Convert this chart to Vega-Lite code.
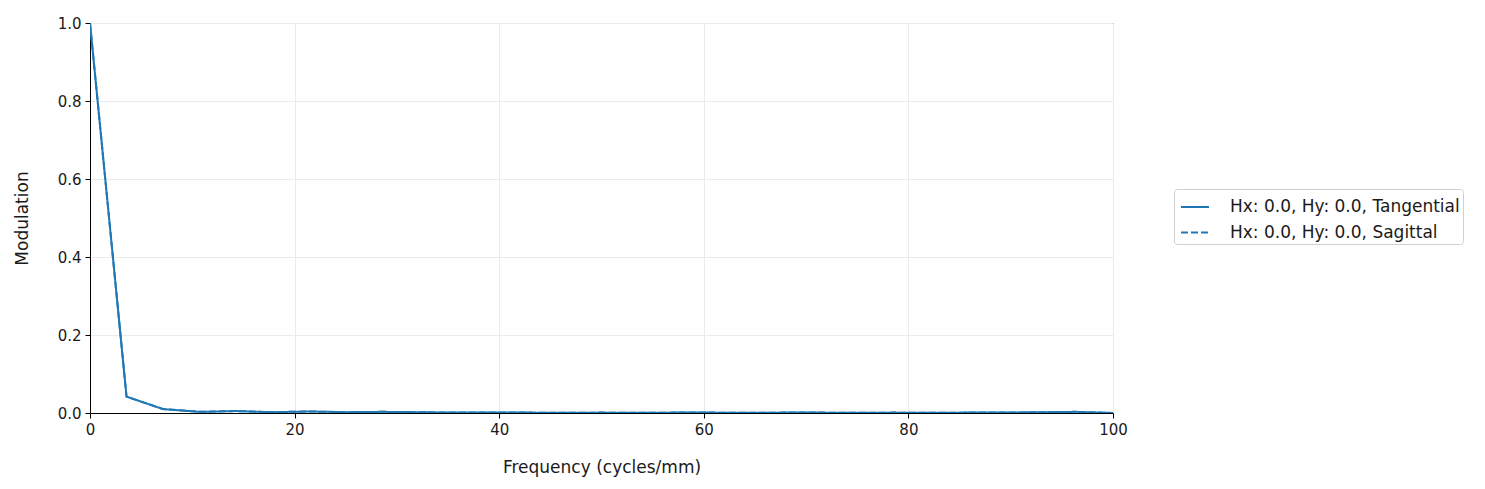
{
  "$schema": "https://vega.github.io/schema/vega-lite/v6.json",
  "width": 1023,
  "height": 390,
  "autosize": {"type": "none"},
  "padding": {"left": 90, "top": 23, "right": 372, "bottom": 76},
  "background": "white",
  "config": {
    "font": "DejaVu Sans",
    "view": {"stroke": "black", "strokeWidth": 1},
    "axis": {
      "labelFont": "DejaVu Sans",
      "labelFontSize": 15,
      "labelColor": "#1a1a1a",
      "labelFlush": false,
      "titleFont": "DejaVu Sans",
      "titleFontSize": 17,
      "titleFontWeight": "normal",
      "titleColor": "#1a1a1a",
      "domainColor": "black",
      "tickColor": "black",
      "tickSize": 5,
      "gridColor": "#ebebeb",
      "gridWidth": 1,
      "labelPadding": 4
    }
  },
  "data": {
    "values": [
      {"freq": 0, "mtf": 1.0, "series": "Hx: 0.0, Hy: 0.0, Tangential"},
      {"freq": 3.571, "mtf": 0.042, "series": "Hx: 0.0, Hy: 0.0, Tangential"},
      {"freq": 7.143, "mtf": 0.010, "series": "Hx: 0.0, Hy: 0.0, Tangential"},
      {"freq": 10.714, "mtf": 0.003, "series": "Hx: 0.0, Hy: 0.0, Tangential"},
      {"freq": 14.286, "mtf": 0.005, "series": "Hx: 0.0, Hy: 0.0, Tangential"},
      {"freq": 17.857, "mtf": 0.002, "series": "Hx: 0.0, Hy: 0.0, Tangential"},
      {"freq": 21.429, "mtf": 0.004, "series": "Hx: 0.0, Hy: 0.0, Tangential"},
      {"freq": 25, "mtf": 0.002, "series": "Hx: 0.0, Hy: 0.0, Tangential"},
      {"freq": 28.571, "mtf": 0.003, "series": "Hx: 0.0, Hy: 0.0, Tangential"},
      {"freq": 32.143, "mtf": 0.002, "series": "Hx: 0.0, Hy: 0.0, Tangential"},
      {"freq": 35.714, "mtf": 0.001, "series": "Hx: 0.0, Hy: 0.0, Tangential"},
      {"freq": 39.286, "mtf": 0.001, "series": "Hx: 0.0, Hy: 0.0, Tangential"},
      {"freq": 42.857, "mtf": 0.001, "series": "Hx: 0.0, Hy: 0.0, Tangential"},
      {"freq": 46.429, "mtf": 0.0005, "series": "Hx: 0.0, Hy: 0.0, Tangential"},
      {"freq": 50, "mtf": 0.001, "series": "Hx: 0.0, Hy: 0.0, Tangential"},
      {"freq": 53.571, "mtf": 0.0005, "series": "Hx: 0.0, Hy: 0.0, Tangential"},
      {"freq": 57.143, "mtf": 0.001, "series": "Hx: 0.0, Hy: 0.0, Tangential"},
      {"freq": 60.714, "mtf": 0.001, "series": "Hx: 0.0, Hy: 0.0, Tangential"},
      {"freq": 64.286, "mtf": 0.0005, "series": "Hx: 0.0, Hy: 0.0, Tangential"},
      {"freq": 67.857, "mtf": 0.001, "series": "Hx: 0.0, Hy: 0.0, Tangential"},
      {"freq": 71.429, "mtf": 0.001, "series": "Hx: 0.0, Hy: 0.0, Tangential"},
      {"freq": 75, "mtf": 0.0005, "series": "Hx: 0.0, Hy: 0.0, Tangential"},
      {"freq": 78.571, "mtf": 0.001, "series": "Hx: 0.0, Hy: 0.0, Tangential"},
      {"freq": 82.143, "mtf": 0.0005, "series": "Hx: 0.0, Hy: 0.0, Tangential"},
      {"freq": 85.714, "mtf": 0.001, "series": "Hx: 0.0, Hy: 0.0, Tangential"},
      {"freq": 89.286, "mtf": 0.001, "series": "Hx: 0.0, Hy: 0.0, Tangential"},
      {"freq": 92.857, "mtf": 0.002, "series": "Hx: 0.0, Hy: 0.0, Tangential"},
      {"freq": 96.429, "mtf": 0.003, "series": "Hx: 0.0, Hy: 0.0, Tangential"},
      {"freq": 100, "mtf": 0.0, "series": "Hx: 0.0, Hy: 0.0, Tangential"},
      {"freq": 0, "mtf": 1.0, "series": "Hx: 0.0, Hy: 0.0, Sagittal"},
      {"freq": 3.571, "mtf": 0.042, "series": "Hx: 0.0, Hy: 0.0, Sagittal"},
      {"freq": 7.143, "mtf": 0.010, "series": "Hx: 0.0, Hy: 0.0, Sagittal"},
      {"freq": 10.714, "mtf": 0.003, "series": "Hx: 0.0, Hy: 0.0, Sagittal"},
      {"freq": 14.286, "mtf": 0.005, "series": "Hx: 0.0, Hy: 0.0, Sagittal"},
      {"freq": 17.857, "mtf": 0.002, "series": "Hx: 0.0, Hy: 0.0, Sagittal"},
      {"freq": 21.429, "mtf": 0.004, "series": "Hx: 0.0, Hy: 0.0, Sagittal"},
      {"freq": 25, "mtf": 0.002, "series": "Hx: 0.0, Hy: 0.0, Sagittal"},
      {"freq": 28.571, "mtf": 0.003, "series": "Hx: 0.0, Hy: 0.0, Sagittal"},
      {"freq": 32.143, "mtf": 0.002, "series": "Hx: 0.0, Hy: 0.0, Sagittal"},
      {"freq": 35.714, "mtf": 0.001, "series": "Hx: 0.0, Hy: 0.0, Sagittal"},
      {"freq": 39.286, "mtf": 0.001, "series": "Hx: 0.0, Hy: 0.0, Sagittal"},
      {"freq": 42.857, "mtf": 0.001, "series": "Hx: 0.0, Hy: 0.0, Sagittal"},
      {"freq": 46.429, "mtf": 0.0005, "series": "Hx: 0.0, Hy: 0.0, Sagittal"},
      {"freq": 50, "mtf": 0.001, "series": "Hx: 0.0, Hy: 0.0, Sagittal"},
      {"freq": 53.571, "mtf": 0.0005, "series": "Hx: 0.0, Hy: 0.0, Sagittal"},
      {"freq": 57.143, "mtf": 0.001, "series": "Hx: 0.0, Hy: 0.0, Sagittal"},
      {"freq": 60.714, "mtf": 0.001, "series": "Hx: 0.0, Hy: 0.0, Sagittal"},
      {"freq": 64.286, "mtf": 0.0005, "series": "Hx: 0.0, Hy: 0.0, Sagittal"},
      {"freq": 67.857, "mtf": 0.001, "series": "Hx: 0.0, Hy: 0.0, Sagittal"},
      {"freq": 71.429, "mtf": 0.001, "series": "Hx: 0.0, Hy: 0.0, Sagittal"},
      {"freq": 75, "mtf": 0.0005, "series": "Hx: 0.0, Hy: 0.0, Sagittal"},
      {"freq": 78.571, "mtf": 0.001, "series": "Hx: 0.0, Hy: 0.0, Sagittal"},
      {"freq": 82.143, "mtf": 0.0005, "series": "Hx: 0.0, Hy: 0.0, Sagittal"},
      {"freq": 85.714, "mtf": 0.001, "series": "Hx: 0.0, Hy: 0.0, Sagittal"},
      {"freq": 89.286, "mtf": 0.001, "series": "Hx: 0.0, Hy: 0.0, Sagittal"},
      {"freq": 92.857, "mtf": 0.002, "series": "Hx: 0.0, Hy: 0.0, Sagittal"},
      {"freq": 96.429, "mtf": 0.003, "series": "Hx: 0.0, Hy: 0.0, Sagittal"},
      {"freq": 100, "mtf": 0.0, "series": "Hx: 0.0, Hy: 0.0, Sagittal"}
    ]
  },
  "mark": {"type": "line", "color": "#1f77b4", "strokeWidth": 2, "clip": true},
  "encoding": {
    "x": {
      "field": "freq",
      "type": "quantitative",
      "title": "Frequency (cycles/mm)",
      "scale": {"domain": [0, 100], "nice": false, "zero": false},
      "axis": {"values": [0, 20, 40, 60, 80, 100], "format": "d", "titlePadding": 22}
    },
    "y": {
      "field": "mtf",
      "type": "quantitative",
      "title": "Modulation",
      "scale": {"domain": [0, 1], "nice": false},
      "axis": {"values": [0, 0.2, 0.4, 0.6, 0.8, 1.0], "format": ".1f", "titlePadding": 26}
    },
    "strokeDash": {
      "field": "series",
      "type": "nominal",
      "scale": {
        "domain": ["Hx: 0.0, Hy: 0.0, Tangential", "Hx: 0.0, Hy: 0.0, Sagittal"],
        "range": [[1, 0], [7, 3]]
      },
      "legend": {
        "title": null,
        "orient": "none",
        "legendX": 1084,
        "legendY": 166,
        "symbolType": "stroke",
        "symbolSize": 784,
        "symbolStrokeWidth": 2,
        "symbolStrokeColor": "#1f77b4",
        "symbolOffset": 3,
        "labelFont": "DejaVu Sans",
        "labelFontSize": 17,
        "labelColor": "#1a1a1a",
        "labelOffset": 20,
        "rowPadding": 2.5,
        "padding": 3,
        "strokeColor": "#d0d0d0",
        "fillColor": "white",
        "cornerRadius": 3,
        "labelLimit": 400
      }
    }
  }
}
